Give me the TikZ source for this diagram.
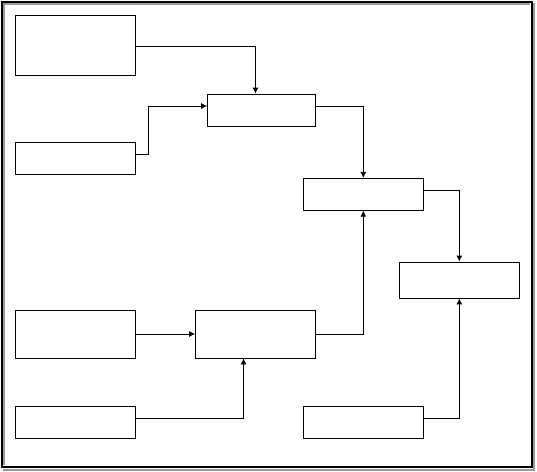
\documentclass[tikz,border=0pt]{standalone}
\usepackage{xcolor}
\definecolor{framegray}{HTML}{9A9A9A}
\usetikzlibrary{arrows.meta,positioning,calc}

\begin{document}
\begin{tikzpicture}[x=1pt, y=-1pt,
      box/.style={draw, line width=0.8pt, inner sep=0pt, minimum width=120pt, minimum height=32pt},
      link/.style={line width=0.8pt, -{Latex[length=6pt,width=6pt]}}
    ]
    \useasboundingbox (0,0) rectangle (537,471);
    % frame
    \draw[framegray, line width=2pt] (3,469.5) -- (534.2,469.5) -- (534.2,3);
    \draw[framegray, line width=1.8pt] (3.8,465) -- (3.8,3.8) -- (530,3.8);
    \draw[line width=2pt] (1.8,1.8) rectangle (531.6,467.2);

    \node[box, minimum height=60pt] (a) at (75.5,45) {};
    \node[box] (b) at (75.5,158.3) {};
    \node[box, minimum width=108pt] (c) at (261.5,110) {};
    \node[box] (d) at (363.3,194.3) {};
    \node[box, minimum height=36pt] (e) at (459.3,280) {};
    \node[box, minimum height=48pt] (f) at (75.5,334) {};
    \node[box, minimum height=48pt] (g) at (255.5,334) {};
    \node[box] (h) at (75.5,422) {};
    \node[box] (i) at (363.3,422.3) {};

    \draw[link] ([yshift=-1pt]a.east) -| ([xshift=-6pt]c.north);
    \draw[link] ([yshift=4pt]b.east) -- ++(12,0) |- ([yshift=4pt]c.west);
    \draw[link] ([yshift=4pt]c.east) -| (d.north);
    \draw[link] ([yshift=4pt]d.east) -| (e.north);
    \draw[link] (f) -- (g);
    \draw[link] ([yshift=4pt]h.east) -| ([xshift=-12pt]g.south);
    \draw[link] (g.east) -| (d.south);
    \draw[link] ([yshift=4pt]i.east) -| (e.south);
  \end{tikzpicture}
\end{document}
